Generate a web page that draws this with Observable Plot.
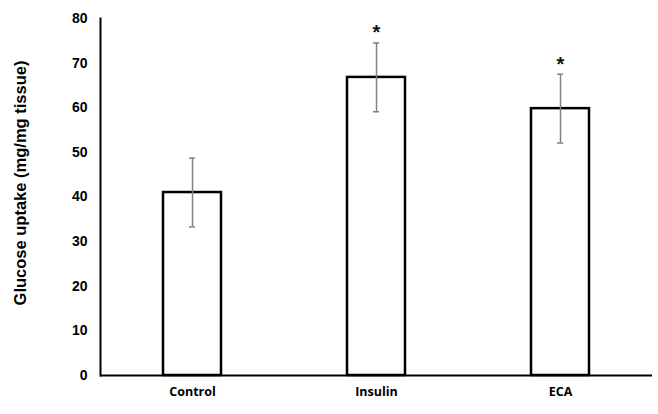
<!DOCTYPE html>
<html>
<head>
<meta charset="utf-8">
<script src="https://cdn.jsdelivr.net/npm/d3@7"></script>
<script src="https://cdn.jsdelivr.net/npm/@observablehq/plot@0.6"></script>
<style>
  html, body { margin: 0; padding: 0; background: #fff; }
  svg text { font-weight: bold; }
</style>
</head>
<body>
<div id="chart"></div>
<script>
const groups = ["Control", "Insulin", "ECA"];
const means = [41, 66.8, 59.8];
const errors = [7.7, 7.7, 7.7];
const significant = [false, true, true];
const yTicks = [0, 10, 20, 30, 40, 50, 60, 70, 80];
const yTitle = "Glucose uptake (mg/mg tissue)";

const data = groups.map((g, i) => ({
  group: g, mean: means[i], lo: means[i] - errors[i], hi: means[i] + errors[i], sig: significant[i]
}));

const chart = Plot.plot({
  width: 658,
  height: 414,
  marginLeft: 100,
  marginRight: 6,
  marginTop: 18,
  marginBottom: 39,
  style: { fontFamily: "Liberation Sans, Arial, sans-serif", background: "#fff", color: "#000" },
  x: { domain: groups, padding: 0, label: null },
  y: { domain: [0, 80], label: null },
  marks: [
    Plot.barY(data, { x: "group", y: "mean", fill: "white", stroke: "black", strokeWidth: 2.5, insetLeft: 63, insetRight: 63 }),
    Plot.ruleX(data, { x: "group", y1: "lo", y2: "hi", stroke: "#808080", strokeWidth: 1.5 }),
    Plot.tickY(data, { x: "group", y: "lo", stroke: "#808080", strokeWidth: 1.5, insetLeft: 89, insetRight: 89 }),
    Plot.tickY(data, { x: "group", y: "hi", stroke: "#808080", strokeWidth: 1.5, insetLeft: 89, insetRight: 89 }),
    Plot.text(data.filter(d => d.sig), { x: "group", y: "hi", text: () => "*", dy: -10, fontSize: 20, fontWeight: "bold", fill: "#111" }),
    Plot.ruleY([0], { stroke: "black", strokeWidth: 2 }),
    Plot.frame({ anchor: "left", stroke: "black", strokeWidth: 2 }),
    Plot.axisY({ ticks: yTicks, tickSize: 0, tickPadding: 13, fontSize: 14, label: null }),
    Plot.axisX({ tickSize: 0, tickPadding: 12, fontSize: 12.5, fontFamily: "Open Sans", label: null }),
    Plot.text([yTitle], { frameAnchor: "left", textAnchor: "middle", rotate: -90, dx: -80, dy: -14, fontSize: 16.5, fontWeight: "bold", fill: "#000" })
  ]
});
document.getElementById("chart").appendChild(chart);
</script>
</body>
</html>
